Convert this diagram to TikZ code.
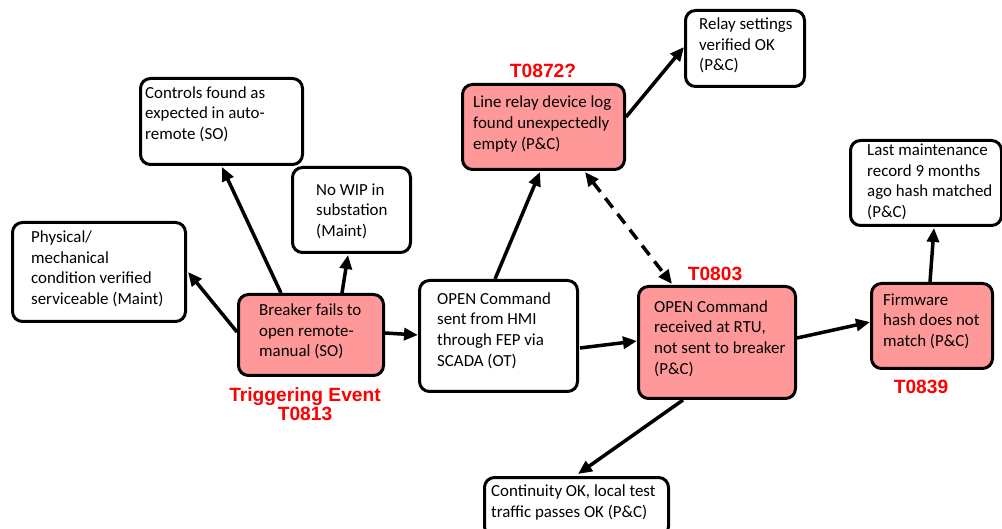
\documentclass[tikz,border=0pt]{standalone}
\usepackage{fontspec}
\setmainfont{Carlito}
\newfontfamily\lblfont{Liberation Sans}
\usetikzlibrary{arrows.meta,calc}
\definecolor{pinkfill}{HTML}{FF9999}
\definecolor{tred}{HTML}{FF0000}
\tikzset{
  boxw/.style={draw=black, line width=3pt, rounded corners=10pt, fill=white, inner sep=0pt},
  boxp/.style={boxw, fill=pinkfill},
  txt/.style={inner sep=0pt, align=left, font=\fontsize{16.9}{20.6}\selectfont},
  tlabel/.style={inner sep=0pt, align=center, text=tred, font=\lblfont\bfseries\fontsize{19.2}{19}\selectfont},
  arr/.style={line width=3.5pt, -{Triangle[length=14pt,width=12pt]}},
  darr/.style={line width=3.5pt, dash pattern=on 12pt off 8pt, {Triangle[length=14pt,width=12pt]}-{Triangle[length=14pt,width=12pt]}}
}
% name, style, x1, y1, x2, y2, text x, text y, text
\newcommand\mybox[9]{%
  \node[#2, minimum width={#5-#3}, minimum height={#6-#4}, anchor=north west] (#1) at (#3,#4) {};
  \node[txt, anchor=west] (#1t) at (#7,#8) {#9};}
\begin{document}
\begin{tikzpicture}[x=1pt,y=-1pt]
\useasboundingbox (0,0) rectangle (1002,529);
\mybox{phy}{boxw}{11}{221}{184}{320}{31}{269}{Physical/\\mechanical\\condition verified\\serviceable (Maint)}
\mybox{brk}{boxp}{237}{293}{382}{374}{259}{331.5}{Breaker fails to\\open remote-\\manual (SO)}
\mybox{ctl}{boxw}{139}{77}{301}{163}{145}{114}{Controls found as\\expected in auto-\\remote (SO)}
\mybox{wip}{boxw}{291}{166}{409}{251}{316}{211}{No WIP in\\substation\\(Maint)}
\mybox{sent}{boxw}{418}{279}{576}{390}{437}{330.5}{OPEN Command\\sent from HMI\\through FEP via\\SCADA (OT)}
\mybox{rel}{boxp}{461}{83}{623}{168}{473}{124}{Line relay device log\\found unexpectedly\\empty (P\&C)}
\mybox{rset}{boxw}{684}{9}{803}{85}{699}{45.5}{Relay settings\\verified OK\\(P\&C)}
\mybox{rtu}{boxp}{637}{285}{794}{397}{654}{338.5}{OPEN Command\\received at RTU,\\not sent to breaker\\(P\&C)}
\mybox{cont}{boxw}{483}{476}{667}{535}{491}{502.5}{Continuity OK, local test\\traffic passes OK (P\&C)}
\mybox{fw}{boxp}{870}{282}{991}{367}{883}{321}{Firmware\\hash does not\\match (P\&C)}
\mybox{last}{boxw}{849}{139}{1000}{224}{867}{182}{Last maintenance\\record 9 months\\ago hash matched\\(P\&C)}

\node[tlabel] (ltrig) at (305,404) {Triggering Event\\T0813};
\node[tlabel] (l872) at (543,71) {T0872?};
\node[tlabel] (l803) at (715,274) {T0803};
\node[tlabel] (l839) at (921,387) {T0839};

\draw[arr] ($(brk.north east)+(0,40)$) -- ($(sent.north west)+(0,56)$);
\draw[arr] ($(brk.north west)+(0,39)$) -- ($(phy.north east)+(1,51)$);
\draw[arr] ($(brk.north west)+(44,0)$) -- ($(ctl.south west)+(83,1)$);
\draw[arr] ($(brk.north west)+(105,0)$) -- ($(wip.south west)+(57,1)$);
\draw[arr] ($(sent.north west)+(77,0)$) -- ($(rel.south west)+(79,1)$);
\draw[arr] ($(sent.north east)+(1,69)$) -- ($(rtu.north west)+(0,56)$);
\draw[arr] ($(rel.north east)+(0,34)$) -- ($(rset.north west)+(0,38)$);
\draw[darr] ($(rel.south west)+(124,1)$) -- ($(rtu.north west)+(35,-1)$);
\draw[arr] ($(rtu.south west)+(46,0)$) -- ($(cont.north west)+(95,-2)$);
\draw[arr] ($(rtu.north east)+(0,53)$) -- ($(fw.north west)+(0,40)$);
\draw[arr] ($(fw.north west)+(60,0)$) -- ($(last.south west)+(85,1)$);
\end{tikzpicture}
\end{document}
